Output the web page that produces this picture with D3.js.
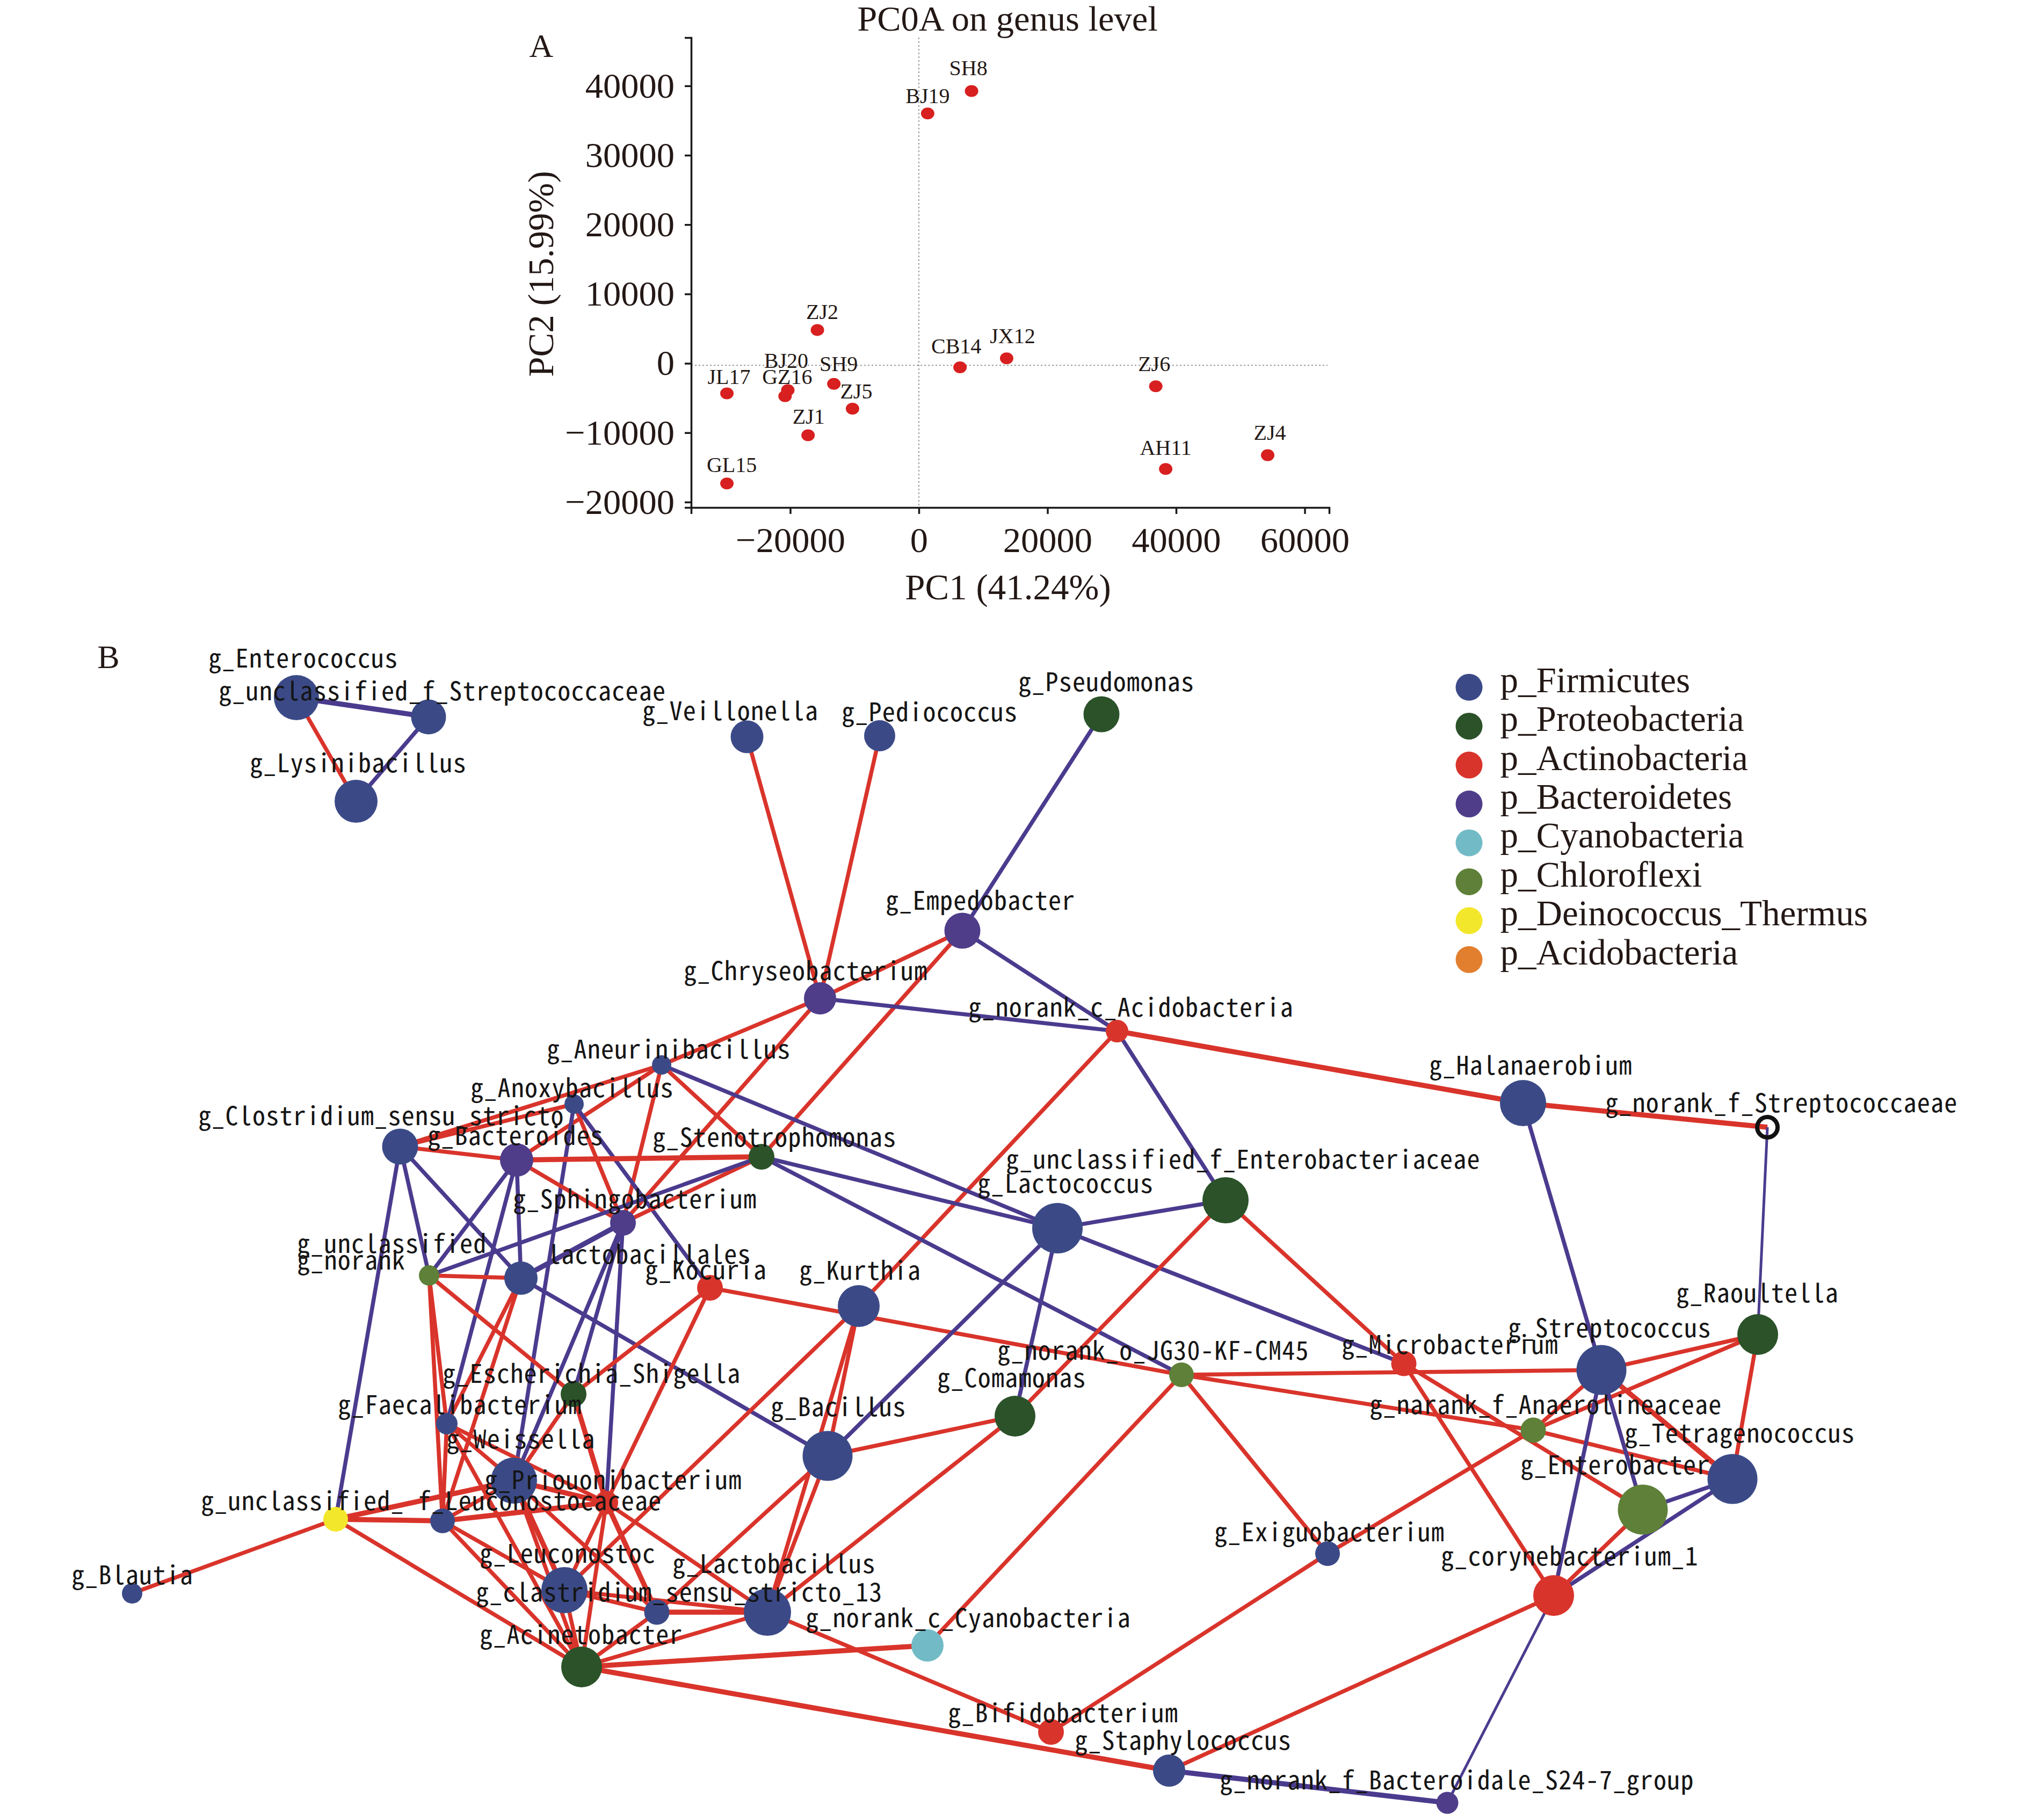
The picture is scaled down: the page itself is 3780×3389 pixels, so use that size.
<!DOCTYPE html>
<html><head><meta charset="utf-8">
<style>html,body{margin:0;padding:0;background:#fff}svg{display:block}</style>
<script src="https://cdn.jsdelivr.net/npm/d3@7/dist/d3.min.js"></script>
</head><body><svg id="c" width="3780" height="3389"></svg>
<script>
// ---------- Panel A data ----------
const samples = ["SH8","BJ19","ZJ2","JX12","CB14","ZJ6","SH9","BJ20","GZ16","JL17","ZJ5","ZJ1","AH11","ZJ4","GL15"];
const pc1 = [8190,1365,-15780,13650,6400,36840,-13220,-20380,-20810,-29850,-10320,-17230,38380,54240,-29850];
const pc2 = [39260,36030,4810,730,-570,-3300,-2960,-3870,-4730,-4330,-6540,-10370,-15220,-13240,-17320];
const xTicks = [-20000,0,20000,40000,60000];
const yTicks = [-20000,-10000,0,10000,20000,30000,40000];
const refV = 0, refH = -280;

// ---------- Panel B data ----------
const phyla = ["p_Firmicutes","p_Proteobacteria","p_Actinobacteria","p_Bacteroidetes","p_Cyanobacteria","p_Chloroflexi","p_Deinococcus_Thermus","p_Acidobacteria"];
const phylumColors = ["#3b4a87","#2b5229","#d9342b","#4f3d8a","#72bbc6","#5e8038","#f3e72b","#e27f2f"];
// id, phylum index (-1 = unfilled), abundance radius
const nodes = [
["Enterococcus",0,42],["uStrep",0,32.5],["Lysinibacillus",0,40],["Veillonella",0,30.5],["Pediococcus",0,29],
["Pseudomonas",1,33.5],["Empedobacter",3,33.5],["Chryseobacterium",3,30],["Acidobacteria",2,21],["Aneurinibacillus",0,18],
["Anoxybacillus",0,18],["Clostridium",0,33.5],["Bacteroides",3,31],["Stenotrophomonas",1,24],["Sphingobacterium",3,24],
["norank",5,19],["Lactobacillales",0,31],["Kocuria",2,24],["Kurthia",0,39],["Escherichia",1,24],
["Faecalibacterium",0,20],["Weissella",0,43],["Priouonibacterium",2,22],["uLeuco",0,23],["uDeino",6,23],
["Blautia",0,19],["Leuconostoc",0,43],["Clast13",0,23.5],["Lactobacillus",0,44],["Acinetobacter",1,38],
["Lactococcus",0,47],["uEntero",1,43],["Bacillus",0,46.5],["Comamonas",1,38],["JG30",5,23],
["Exiguobacterium",0,23],["Cyanobacteria",4,30],["Bifidobacterium",2,24],["Staphylococcus",0,30],["S24",3,20.5],
["Microbacterium",2,23.5],["Streptococcus",0,46.5],["Raoultella",1,38],["Anaerolineaceae",5,23.5],["Tetragenococcus",0,46.5],
["Enterobacter",5,46.5],["Corynebacterium",2,38],["Halanaerobium",0,43],["nStrep",-1,19]
];
// network layout coordinates of each node, same order as nodes
const layoutX = [552,798,663,1391,1638,2051,1792,1527,2080,1232,1069,745,962,1418,1160,799,970,1322,1599,1068,832,957,1129,824,625,246,1051,1223,1429,1083,1969,2282,1541,1890,2200,2472,1727,1957,2177,2695,2614,2982,3273,2855,3226,3059,2893,2836,3291];
const layoutY = [1297,1333,1490,1370,1368,1328,1731,1857,1918,1981,2054,2133,2158,2152,2275,2373,2378,2396,2430,2594,2649,2755,2796,2830,2827,2965,2959,3000,3000,3102,2285,2233,2709,2635,2558,2891,3062,3223,3295,3355,2537,2549,2483,2661,2752,2809,2969,2052,2097];
// source, target, sign (+ red, - purple), strength
const links = [
["Enterococcus","uStrep","-",3],["Enterococcus","Lysinibacillus","+",2],["uStrep","Lysinibacillus","-",2],
["Veillonella","Chryseobacterium","+",2],["Pediococcus","Chryseobacterium","+",2],["Pseudomonas","Empedobacter","-",2],
["Empedobacter","Chryseobacterium","+",2],["Empedobacter","Acidobacteria","-",2],["Empedobacter","Stenotrophomonas","+",2],
["Chryseobacterium","Aneurinibacillus","+",2],["Chryseobacterium","Acidobacteria","-",2],["Chryseobacterium","Sphingobacterium","+",2],
["Acidobacteria","Halanaerobium","+",3],["Halanaerobium","nStrep","+",3],["Acidobacteria","uEntero","-",2],["Acidobacteria","Kurthia","+",2],
["Aneurinibacillus","Lactococcus","-",2],["Aneurinibacillus","Stenotrophomonas","+",2],["Aneurinibacillus","Sphingobacterium","+",2],
["Aneurinibacillus","Bacteroides","+",2],["Aneurinibacillus","Clostridium","+",2],["Anoxybacillus","Clostridium","+",2],
["Anoxybacillus","Sphingobacterium","+",2],["Anoxybacillus","Kocuria","-",2],["Anoxybacillus","Weissella","-",2],
["Clostridium","Bacteroides","+",2],["Clostridium","uDeino","-",2],["Clostridium","norank","-",2],["Clostridium","Lactobacillales","-",2],
["Bacteroides","Stenotrophomonas","+",3],["Bacteroides","Sphingobacterium","+",2],["Bacteroides","norank","-",2],
["Bacteroides","Lactobacillales","-",2],["Bacteroides","Faecalibacterium","-",2],
["Stenotrophomonas","Sphingobacterium","+",2],["Stenotrophomonas","norank","-",2],["Stenotrophomonas","Lactococcus","-",2],["Stenotrophomonas","JG30","-",2],
["Lactococcus","Microbacterium","-",2],["Sphingobacterium","Lactobacillales","-",3],["Sphingobacterium","Weissella","-",2],
["Sphingobacterium","Priouonibacterium","-",2],["Sphingobacterium","Escherichia","-",2],
["norank","Lactobacillales","+",2],["norank","Escherichia","+",2],["norank","uLeuco","+",2],["norank","Faecalibacterium","+",2],
["Lactobacillales","Bacillus","-",2],["Lactobacillales","Faecalibacterium","+",2],["Lactobacillales","uLeuco","+",2],
["Kocuria","JG30","+",2],["Kocuria","Escherichia","+",2],["Kocuria","Priouonibacterium","+",2],
["JG30","Streptococcus","+",2],["JG30","Anaerolineaceae","+",2],["JG30","Exiguobacterium","+",2],["JG30","Cyanobacteria","+",2],
["Anaerolineaceae","Tetragenococcus","+",2],["Anaerolineaceae","Streptococcus","+",2],["Anaerolineaceae","Raoultella","+",2],["Anaerolineaceae","Exiguobacterium","+",2],
["Microbacterium","Enterobacter","+",2],["Microbacterium","Corynebacterium","+",2],["uEntero","Microbacterium","+",2],
["uEntero","Lactococcus","-",2],["uEntero","Comamonas","+",2],["Lactococcus","Bacillus","-",2],["Lactococcus","Comamonas","-",2],
["Kurthia","Bacillus","+",2],["Kurthia","Lactobacillus","+",2],["Kurthia","Leuconostoc","+",2],
["Bacillus","Comamonas","+",2],["Bacillus","Lactobacillus","+",2],["Bacillus","Clast13","+",2],["Comamonas","Lactobacillus","+",2],
["Escherichia","Weissella","+",2],["Escherichia","Priouonibacterium","+",3],
["Faecalibacterium","Priouonibacterium","+",2],["Faecalibacterium","Weissella","+",2],["Faecalibacterium","Acinetobacter","+",2],["Faecalibacterium","uLeuco","+",2],
["uDeino","Weissella","+",3],["uDeino","uLeuco","+",3],["uDeino","Blautia","+",2],["uDeino","Acinetobacter","+",2],
["uLeuco","Priouonibacterium","+",3],["uLeuco","Weissella","+",2],["uLeuco","Leuconostoc","+",2],["uLeuco","Acinetobacter","+",2],
["Weissella","Priouonibacterium","+",3],["Weissella","Leuconostoc","+",3],["Weissella","Acinetobacter","+",2],["Weissella","Clast13","+",2],
["Priouonibacterium","Leuconostoc","+",2],["Priouonibacterium","Acinetobacter","+",2],["Priouonibacterium","Clast13","+",3],["Priouonibacterium","Lactobacillus","+",2],
["Leuconostoc","Clast13","+",2],["Leuconostoc","Lactobacillus","+",2],["Leuconostoc","Acinetobacter","+",2],
["Clast13","Lactobacillus","+",3],["Clast13","Acinetobacter","+",2],["Lactobacillus","Acinetobacter","+",2],["Lactobacillus","Bifidobacterium","+",2],
["Acinetobacter","Cyanobacteria","+",3],["Acinetobacter","Staphylococcus","+",3],
["Staphylococcus","Corynebacterium","+",2],["Staphylococcus","S24","-",3],["S24","Corynebacterium","-",1],["Bifidobacterium","Exiguobacterium","+",2],
["Corynebacterium","Enterobacter","+",2],["Corynebacterium","Streptococcus","-",2],["Corynebacterium","Tetragenococcus","-",2],
["Enterobacter","Tetragenococcus","-",2],["Enterobacter","Streptococcus","-",2],["Halanaerobium","Streptococcus","-",2],["nStrep","Raoultella","-",1],
["Raoultella","Streptococcus","+",2],["Raoultella","Tetragenococcus","+",2],["Streptococcus","Tetragenococcus","+",3]
];
// taxon labels with their layout anchor (left, baseline)
const taxonLabels = [
["g_Enterococcus",388,1241],["g_unclassified_f_Streptococcaceae",407,1302],["g_Lysinibacillus",465,1436],["g_Veillonella",1196,1339],
["g_Pediococcus",1567,1341],["g_Pseudomonas",1896,1285],["g_Empedobacter",1649,1692],["g_Chryseobacterium",1273,1823],
["g_norank_c_Acidobacteria",1803,1891],["g_Aneurinibacillus",1018,1969],["g_Anoxybacillus",876,2041],["g_Clostridium_sensu_stricto",369,2093],
["g_Bacteroides",796,2130],["g_Stenotrophomonas",1215,2133],["g_Sphingobacterium",955,2248],["g_unclassified",553,2331],["g_norank",553,2362],
["lactobacillales",1020,2351],["g_Kocuria",1201,2380],["g_Kurthia",1488,2381],["g_Escherichia_Shigella",824,2573],["g_Faecalibacterium",629,2631],
["g_Weissella",831,2695],["g_Priouonibacterium",902,2771],["g_unclassified_ f_Leuconostocaceae",374,2810],["g_Bacillus",1435,2635],
["g_Comamonas",1745,2581],["g_norank_o_JG30-KF-CM45",1857,2530],["g_unclassified_f_Enterobacteriaceae",1873,2174],["g_Lactococcus",1820,2219],
["g_Halanaerobium",2661,1999],["g_norank_f_Streptococcaeae",2989,2069],["g_Raoultella",3121,2423],["g_Streptococcus",2808,2488],
["g_Microbacterium",2498,2519],["g_narank_f_Anaerolineaceae",2550,2631],["g_Tetragenococcus",3025,2684],["g_Enterobacter",2831,2743],
["g_Exiguobacterium",2261,2868],["g_corynebacterium_1",2683,2913],["g_Lactobacillus",1252,2927],["g_clastridium_sensu_stricto_13",886,2980],
["g_Leuconostoc",893,2908],["g_Acinetobacter",893,3059],["g_norank_c_Cyanobacteria",1500,3028],["g_Bifidobacterium",1765,3205],
["g_Staphylococcus",2001,3256],["g_norank_f_Bacteroidale_S24-7_group",2271,3330],["g_Blautia",133,2948]
];

// ---------- Drawing ----------
const SERIF = "'Liberation Serif','Times New Roman',serif";
const INK = "#231815";
const svg = d3.select("#c");
svg.append("rect").attr("width",3780).attr("height",3389).attr("fill","#fff");

// Panel A
const x = d3.scaleLinear().domain([-35407,63800]).range([1287,2475]);
const y = d3.scaleLinear().domain([-20780,46960]).range([945,70]);
const A = svg.append("g");
A.append("line").attr("x1",x(refV)).attr("x2",x(refV)).attr("y1",y.range()[1]).attr("y2",y.range()[0])
 .attr("stroke","#9a9a9a").attr("stroke-width",2).attr("stroke-dasharray","3 4");
A.append("line").attr("x1",x.range()[0]).attr("x2",x.range()[1]-3).attr("y1",y(refH)).attr("y2",y(refH))
 .attr("stroke","#9a9a9a").attr("stroke-width",2).attr("stroke-dasharray","3 4");
const xAxis = A.append("g").attr("transform",`translate(0,${y.range()[0]})`)
 .call(d3.axisBottom(x).tickValues(xTicks).tickSize(12).tickPadding(24).tickFormat(d3.format("d")));
const yAxis = A.append("g").attr("transform",`translate(${x.range()[0]},0)`)
 .call(d3.axisLeft(y).tickValues(yTicks).tickSize(12).tickPadding(19).tickFormat(d3.format("d")));
[xAxis,yAxis].forEach(g=>{
  g.selectAll("path,line").attr("stroke","#1a1a1a").attr("stroke-width",3.5);
  g.selectAll("text").attr("font-family",SERIF).attr("font-size",66.5).attr("fill",INK);
});
const sampleOffsetX = [-6,0,9,11,-7,-3,9,-3,4,4,7,1,0,4,9];
const sampleOffsetY = [-29,-19,-20,-28,-26,-28,-24,-42,-23,-18,-19,-22,-26,-29,-21];
const pts = samples.map((s,i)=>({s,a:pc1[i],b:pc2[i],dx:sampleOffsetX[i],dy:sampleOffsetY[i]}));
A.selectAll("ellipse.p").data(pts).join("ellipse").attr("class","p")
 .attr("cx",d=>x(d.a)).attr("cy",d=>y(d.b)).attr("rx",12.5).attr("ry",11).attr("fill","#d7201f");
A.selectAll("text.s").data(pts).join("text").attr("class","s")
 .attr("x",d=>x(d.a)+d.dx).attr("y",d=>y(d.b)+d.dy).attr("text-anchor","middle")
 .attr("font-family",SERIF).attr("font-size",40).attr("fill",INK).text(d=>d.s);
const T = (s,px,py,size,anchor,rot)=>svg.append("text").text(s).attr("font-family",SERIF).attr("font-size",size)
 .attr("fill",INK).attr("text-anchor",anchor||"middle").attr("transform",`translate(${px},${py})`+(rot?` rotate(${rot})`:""));
T("PC0A on genus level",1876,57,66.5);
T("PC1 (41.24%)",1877,1116,67);
T("PC2 (15.99%)",1030,510,67,"middle",-90);
T("A",1008,106,62);
T("B",202,1244,62);

// Panel B
const lx = d3.scaleLinear().domain([0,3780]).range([0,3780]);
const ly = d3.scaleLinear().domain([0,3389]).range([2,3391]);
const nodeData = nodes.map((n,i)=>({id:n[0],ph:n[1],r:n[2],x:lx(layoutX[i]),y:ly(layoutY[i])}));
const byId = new Map(nodeData.map(d=>[d.id,d]));
const edgeColor = d3.scaleOrdinal().domain(["+","-"]).range(["#d9342b","#4b3b8e"]);
const edgeWidth = d3.scaleOrdinal().domain([1,2,3]).range([5,7.5,9.5]);
const B = svg.append("g");
B.selectAll("line").data(links).join("line")
 .attr("x1",d=>byId.get(d[0]).x).attr("y1",d=>byId.get(d[0]).y)
 .attr("x2",d=>byId.get(d[1]).x).attr("y2",d=>byId.get(d[1]).y)
 .attr("stroke",d=>edgeColor(d[2])).attr("stroke-width",d=>edgeWidth(d[3]));
B.selectAll("circle").data(nodeData).join("circle")
 .attr("cx",d=>d.x).attr("cy",d=>d.y).attr("r",d=>d.r)
 .attr("fill",d=>d.ph<0?"none":phylumColors[d.ph])
 .attr("stroke",d=>d.ph<0?"#111":"none").attr("stroke-width",d=>d.ph<0?8:0);
B.selectAll("text").data(taxonLabels).join("text")
 .attr("x",d=>lx(d[1])).attr("y",d=>ly(d[2]))
 .attr("font-family","'Noto Sans CJK JP','Noto Sans CJK SC',sans-serif")
 .style("font-feature-settings","'hwid'").style("letter-spacing","1.25px")
 .attr("font-size",48).attr("fill","#151515").text(d=>d[0]);

// Legend
const legend = d3.scaleBand().domain(phyla).range([1243.5,1823]);
const L = svg.append("g");
L.selectAll("circle").data(phyla).join("circle")
 .attr("cx",2735.5).attr("cy",d=>legend(d)+legend.bandwidth()/2).attr("r",25)
 .attr("fill",(d,i)=>phylumColors[i]);
L.selectAll("text").data(phyla).join("text")
 .attr("x",2793.5).attr("y",d=>legend(d)+legend.bandwidth()/2+9)
 .attr("font-family",SERIF).attr("font-size",67).attr("fill",INK).text(d=>d);
</script></body></html>
